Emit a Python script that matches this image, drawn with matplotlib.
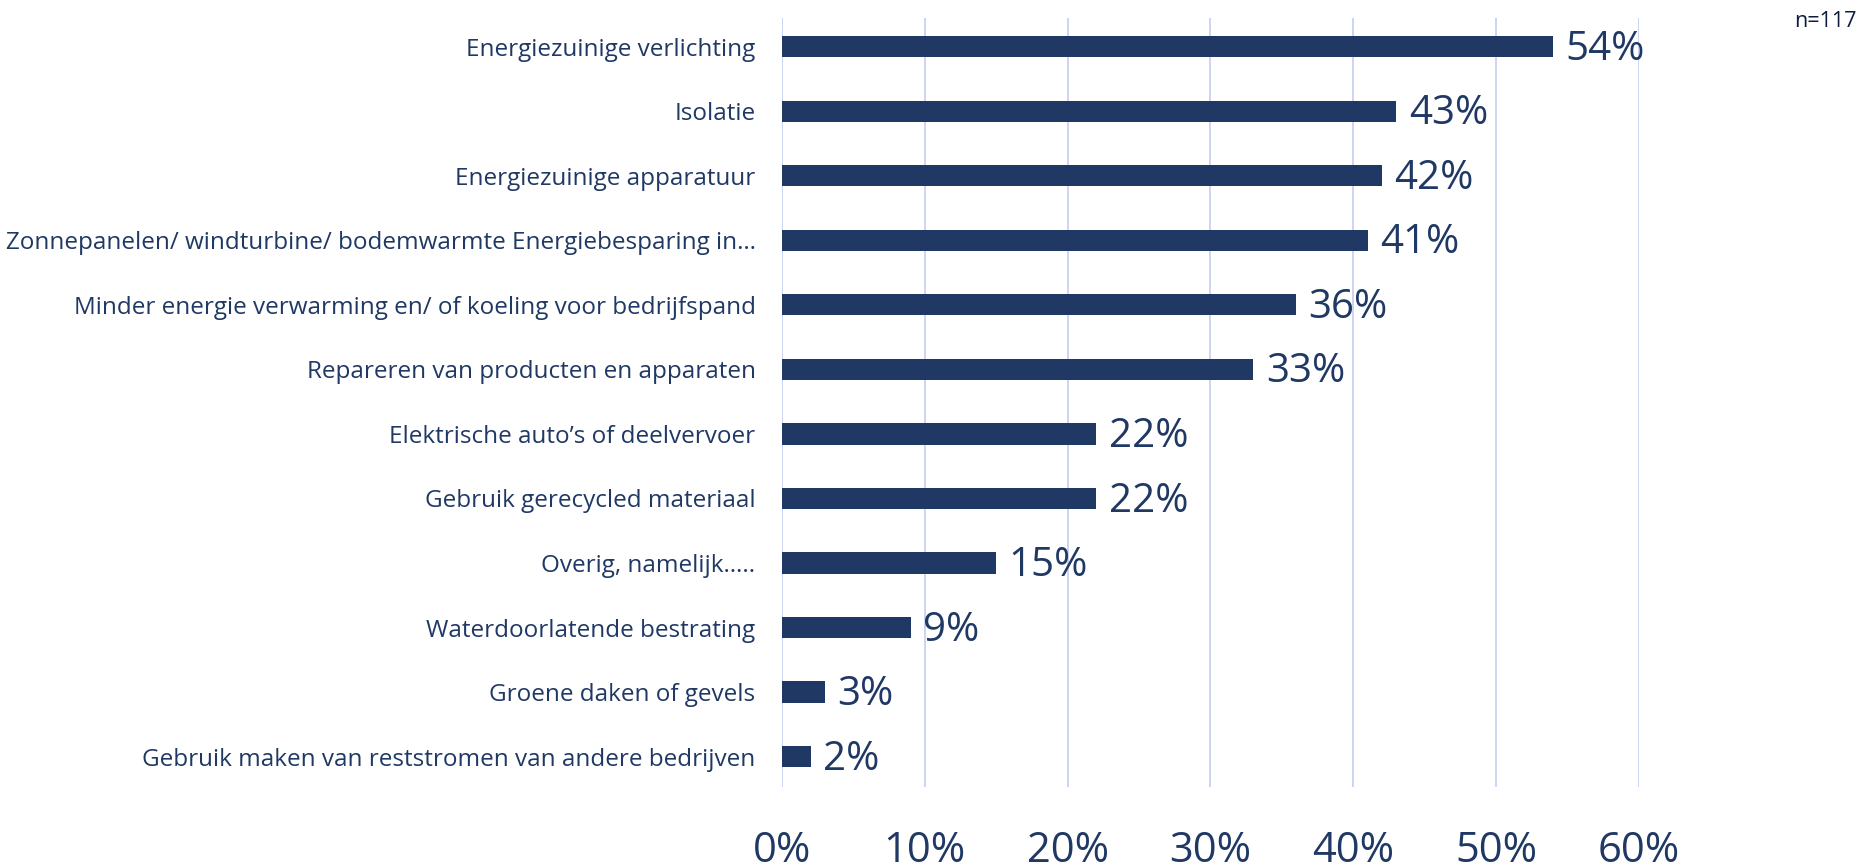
import matplotlib.pyplot as plt
from matplotlib.ticker import PercentFormatter

categories = [
    "Energiezuinige verlichting",
    "Isolatie",
    "Energiezuinige apparatuur",
    "Zonnepanelen/ windturbine/ bodemwarmte Energiebesparing in\u2026",
    "Minder energie verwarming en/ of koeling voor bedrijfspand",
    "Repareren van producten en apparaten",
    "Elektrische auto\u2019s of deelvervoer",
    "Gebruik gerecycled materiaal",
    "Overig, namelijk\u2026..",
    "Waterdoorlatende bestrating",
    "Groene daken of gevels",
    "Gebruik maken van reststromen van andere bedrijven",
]
values = [54, 43, 42, 41, 36, 33, 22, 22, 15, 9, 3, 2]
xticks = [0, 10, 20, 30, 40, 50, 60]

navy = "#1f3864"
grid_col = "#c5cdf0"
plt.rcParams['font.family'] = ['Open Sans', 'DejaVu Sans']

fig = plt.figure(figsize=(18.65, 8.68), dpi=100)
ax = fig.add_axes([0.4193, 0.0933, 0.4595, 0.8857])

ypos = list(range(len(categories)))
ax.barh(ypos, values, height=0.33, color=navy, zorder=3)

for y, v in zip(ypos, values):
    ax.annotate(f"{v}%", (v, y), xytext=(9, -2), textcoords='offset points',
                va='center', ha='left', fontsize=29, color=navy)

ax.set_xlim(0, 60)
ax.set_ylim(11.47, -0.44)
ax.set_xticks(xticks)
ax.xaxis.set_major_formatter(PercentFormatter(decimals=0))
ax.set_yticks(ypos)
ax.set_yticklabels(categories)

ax.grid(axis='x', color=grid_col, linewidth=1.2, zorder=0)
for s in ax.spines.values():
    s.set_visible(False)
ax.tick_params(axis='x', length=0, pad=31, labelsize=30, labelcolor=navy)
ax.tick_params(axis='y', length=0, pad=19, labelsize=17.5, labelcolor=navy)

fig.text(0.9955, 0.975, "n=117", ha='right', va='center', fontsize=15.5, color="#0d1b3e")

fig.savefig("out.png", dpi=100)
